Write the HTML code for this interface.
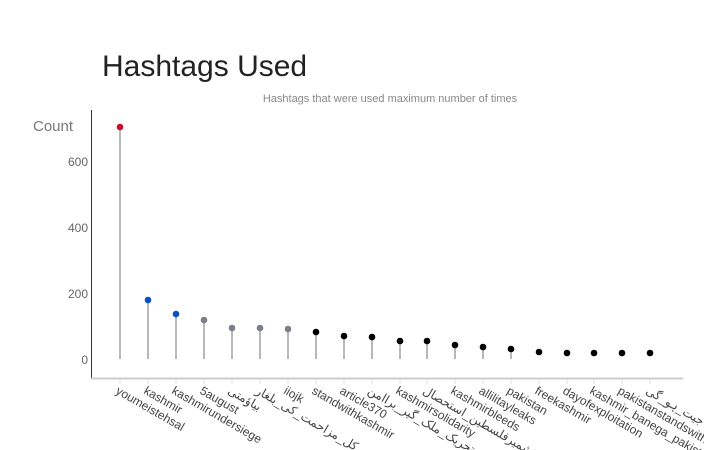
<!DOCTYPE html><html><head><style>body{margin:0;background:#fff}svg{display:block}</style></head><body>
<svg width="704" height="450" xmlns="http://www.w3.org/2000/svg" font-family="Liberation Sans, Noto Sans CJK SC, sans-serif">
<text x="102" y="76" font-size="30" fill="#222">Hashtags Used</text>
<text x="390" y="102" font-size="11" fill="#888" text-anchor="middle">Hashtags that were used maximum number of times</text>
<text x="33" y="131" font-size="15" fill="#777">Count</text>
<g font-size="12" fill="#666" text-anchor="end">
<text x="88" y="166">600</text><text x="88" y="232">400</text><text x="88" y="298">200</text><text x="88" y="364">0</text>
</g>
<line x1="91.5" y1="110" x2="91.5" y2="379" stroke="#333" stroke-width="1"/>
<line x1="91" y1="378.5" x2="683" y2="378.5" stroke="#ccc" stroke-width="2"/>
<g stroke="#888" stroke-width="1.2">
<line x1="120" y1="127" x2="120" y2="359"/><line x1="148" y1="300" x2="148" y2="359"/><line x1="176" y1="314" x2="176" y2="359"/><line x1="204" y1="320" x2="204" y2="359"/><line x1="232" y1="328" x2="232" y2="359"/><line x1="260" y1="328" x2="260" y2="359"/><line x1="288" y1="329" x2="288" y2="359"/><line x1="316" y1="332" x2="316" y2="359"/><line x1="344" y1="336" x2="344" y2="359"/><line x1="372" y1="337" x2="372" y2="359"/><line x1="400" y1="341" x2="400" y2="359"/><line x1="427" y1="341" x2="427" y2="359"/><line x1="455" y1="345" x2="455" y2="359"/><line x1="483" y1="347" x2="483" y2="359"/><line x1="511" y1="349" x2="511" y2="359"/>
</g>
<g stroke="#ddd">
<line x1="120" y1="379" x2="120" y2="384"/><line x1="148" y1="379" x2="148" y2="384"/><line x1="176" y1="379" x2="176" y2="384"/><line x1="204" y1="379" x2="204" y2="384"/><line x1="232" y1="379" x2="232" y2="384"/><line x1="260" y1="379" x2="260" y2="384"/><line x1="288" y1="379" x2="288" y2="384"/><line x1="316" y1="379" x2="316" y2="384"/><line x1="344" y1="379" x2="344" y2="384"/><line x1="372" y1="379" x2="372" y2="384"/><line x1="400" y1="379" x2="400" y2="384"/><line x1="427" y1="379" x2="427" y2="384"/><line x1="455" y1="379" x2="455" y2="384"/><line x1="483" y1="379" x2="483" y2="384"/><line x1="511" y1="379" x2="511" y2="384"/><line x1="539" y1="379" x2="539" y2="384"/><line x1="567" y1="379" x2="567" y2="384"/><line x1="594" y1="379" x2="594" y2="384"/><line x1="622" y1="379" x2="622" y2="384"/><line x1="650" y1="379" x2="650" y2="384"/>
</g>
<circle cx="120" cy="127" r="3.3" fill="#c8102e"/>
<circle cx="148" cy="300" r="3.3" fill="#0a4fc4"/>
<circle cx="176" cy="314" r="3.3" fill="#0a4fc4"/>
<g fill="#7a7f88"><circle cx="204" cy="320" r="3.3"/><circle cx="232" cy="328" r="3.3"/><circle cx="260" cy="328" r="3.3"/><circle cx="288" cy="329" r="3.3"/></g>
<g fill="#000"><circle cx="316" cy="332" r="3.3"/><circle cx="344" cy="336" r="3.3"/><circle cx="372" cy="337" r="3.3"/><circle cx="400" cy="341" r="3.3"/><circle cx="427" cy="341" r="3.3"/><circle cx="455" cy="345" r="3.3"/><circle cx="483" cy="347" r="3.3"/><circle cx="511" cy="349" r="3.3"/><circle cx="539" cy="352" r="3.3"/><circle cx="567" cy="353" r="3.3"/><circle cx="594" cy="353" r="3.3"/><circle cx="622" cy="353" r="3.3"/><circle cx="650" cy="353" r="3.3"/></g>
<g font-size="12" fill="#444">
<text transform="translate(115,393) rotate(30)">youmeistehsal</text>
<text transform="translate(143,393) rotate(30)">kashmir</text>
<text transform="translate(171,393) rotate(30)">kashmirundersiege</text>
<text transform="translate(199,393) rotate(30)">5august</text>
<text transform="translate(227,393) rotate(30)">بیاؤمتی</text>
<text transform="translate(255,393) rotate(30)">کل_مزاحمت_کی_بلغار</text>
<text transform="translate(283,393) rotate(30)">iiojk</text>
<text transform="translate(311,393) rotate(30)">standwithkashmir</text>
<text transform="translate(339,393) rotate(30)">article370</text>
<text transform="translate(367,393) rotate(30)">تحریک_ملک_گیر_براامن</text>
<text transform="translate(395,393) rotate(30)">kashmirsolidarity</text>
<text transform="translate(422,393) rotate(30)">کشمیرفلسطین_استحصال</text>
<text transform="translate(450,393) rotate(30)">kashmirbleeds</text>
<text transform="translate(478,393) rotate(30)">allilitayleaks</text>
<text transform="translate(506,393) rotate(30)">pakistan</text>
<text transform="translate(534,393) rotate(30)">freekashmir</text>
<text transform="translate(562,393) rotate(30)">dayofexploitation</text>
<text transform="translate(589,393) rotate(30)">kashmir_banega_pakistan</text>
<text transform="translate(617,393) rotate(30)">pakistanstandswithkashmir</text>
<text transform="translate(645,393) rotate(30)">جیت_ہو_گی</text>
</g>
</svg></body></html>
